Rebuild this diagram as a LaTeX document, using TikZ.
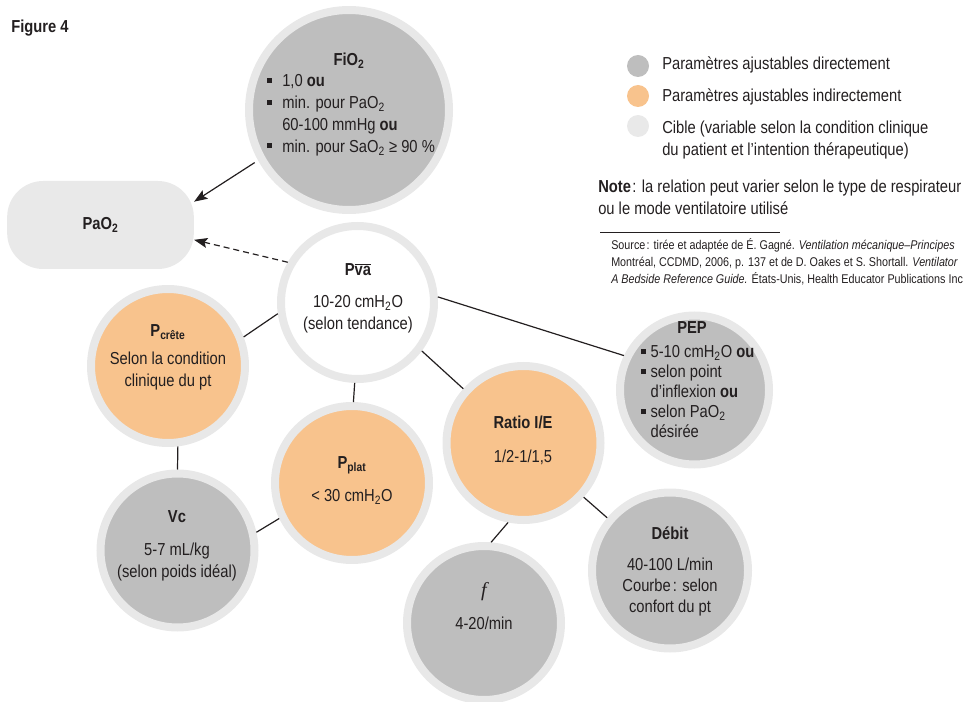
\documentclass[tikz,border=0pt]{standalone}
\usepackage{fontspec}
\setmainfont{Liberation Sans}[FakeStretch=0.85]
\newfontfamily\serifit{Liberation Serif}
\usetikzlibrary{arrows.meta}
\definecolor{grisdirect}{HTML}{BEBEBE}
\definecolor{peche}{HTML}{F8C38D}
\definecolor{anneau}{HTML}{E8E8E8}
\definecolor{cible}{HTML}{E9E9E9}
\definecolor{encre}{HTML}{231F20}
\newcommand{\puce}[1][11.25pt]{\makebox[#1][l]{\rule[0.22em]{3.6pt}{3.6pt}}}
\tikzset{
  bulle/.style={circle, draw=anneau, line width=6pt, inner sep=0pt, minimum size=#1},
  bulle/.default=115.5pt,
  lien/.style={draw=encre, line width=0.9pt},
  fleche/.style={-{Stealth[length=10pt,width=7.5pt,inset=2pt]}},
  legende/.style={circle, inner sep=0pt, minimum size=16.5pt},
}

\begin{document}
\begin{tikzpicture}[x=0.75pt, y=-0.75pt, font=\fontsize{13}{16.5}\selectfont, text=encre]
  \useasboundingbox (0,0) rectangle (964,702);
  \clip (0,0) rectangle (964,702);
  \node[anchor=west, inner sep=0pt] (fig) at (11,28) {\bfseries Figure 4};

  % bulles
  \node[bulle=150pt, fill=grisdirect] (fio) at (349,110) {};
  \node[rectangle, rounded corners=27pt, fill=cible, minimum width=140pt, minimum height=66pt] (pao) at (100.5,225) {\bfseries PaO\textsubscript{2}};
  \node[bulle=114.75pt, fill=white] (pva) at (357.5,302.5) {};
  \node[bulle, fill=peche] (pcrete) at (168,366) {};
  \node[bulle=111.75pt, fill=grisdirect] (pep) at (694.5,390) {};
  \node[bulle, fill=peche] (pplat) at (352,483) {};
  \node[bulle, fill=peche] (ratio) at (523.5,443) {};
  \node[bulle, fill=grisdirect] (vc) at (177.5,550.5) {};
  \node[bulle, fill=grisdirect] (f) at (484,623) {};
  \node[bulle=117pt, fill=grisdirect] (debit) at (670,570.5) {};

  % textes des bulles
  \node (fio-t) at (349,61) {\bfseries FiO\textsubscript{2}};
  \node[anchor=west, align=left, inner sep=0pt, font=\fontsize{13}{16.4}\selectfont] (fio-b) at (267,115)
    {\puce 1,0 \textbf{ou}\\ \puce min. pour PaO\textsubscript{2}\\ \hspace*{11.25pt}60-100 mmHg \textbf{ou}\\ \puce min. pour SaO\textsubscript{2} ≥ 90~\%};
  \node (pva-t) at (358,270) {\bfseries P$\overline{\hbox{va}}$};
  \node[align=center] (pva-b) at (358,314.5) {10-20 cmH\textsubscript{2}O\\(selon tendance)};
  \node (pcrete-t) at (168,332) {\bfseries P\textsubscript{crête}};
  \node[align=center] (pcrete-b) at (168,371.5) {Selon la condition\\clinique du pt};
  \node (pep-t) at (692,328) {\bfseries PEP};
  \node[anchor=west, align=left, inner sep=0pt, font=\fontsize{13}{15}\selectfont] (pep-b) at (641,392)
    {\puce[7pt]5-10 cmH\textsubscript{2}O \textbf{ou}\\ \puce[7pt]selon point\\ \hspace*{7pt}d’inflexion \textbf{ou}\\ \puce[7pt]selon PaO\textsubscript{2}\\ \hspace*{7pt}désirée};
  \node (pplat-t) at (352,465) {\bfseries P\textsubscript{plat}};
  \node (pplat-b) at (352,497) {\textless{} 30 cmH\textsubscript{2}O};
  \node (ratio-t) at (523,422) {\bfseries Ratio I/E};
  \node (ratio-b) at (523,457) {1/2-1/1,5};
  \node (vc-t) at (177,517) {\bfseries Vc};
  \node[align=center] (vc-b) at (177,562) {5-7 mL/kg\\(selon poids idéal)};
  \node (f-t) at (484,592) {\fontsize{15}{18}\selectfont\serifit\itshape f};
  \node (f-b) at (484,623) {4-20/min};
  \node (debit-t) at (670,533) {\bfseries Débit};
  \node[align=center, font=\fontsize{13}{15.4}\selectfont] (debit-b) at (670,587) {40-100 L/min\\Courbe\hspace{1.5pt}: selon\\confort du pt};

  % liens
  \draw[lien, fleche, shorten <=3pt] (fio.209) -- (pao.14);
  \draw[lien, fleche, dash pattern=on 4.5pt off 3pt] (pva.150) -- (pao.-9);
  \draw[lien] (pva.188) -- (pcrete.21);
  \draw[lien] (pva.268) -- (pplat.89);
  \draw[lien] (pva.-37) -- (ratio.138);
  \draw[lien] (pva.4) -- (pep.154);
  \draw[lien] (pcrete.-83) -- (vc.90);
  \draw[lien] (vc.13) -- (pplat.206);
  \draw[lien] (ratio.259) -- (f.85);
  \draw[lien] (ratio.-42) -- (debit.140);

  % legende
  \node[legende, fill=grisdirect] (leg-d) at (638,66) {};
  \node[legende, fill=peche] (leg-i) at (638,96) {};
  \node[legende, fill=cible] (leg-c) at (638,126) {};
  \node[anchor=west, inner sep=0pt] (leg-dt) at (662,65) {Paramètres ajustables directement};
  \node[anchor=west, inner sep=0pt] (leg-it) at (662,97) {Paramètres ajustables indirectement};
  \node[anchor=west, inner sep=0pt, align=left] (leg-ct) at (662,140)
    {Cible (variable selon la condition clinique\\du patient et l’intention thérapeutique)};
  \node[anchor=west, inner sep=0pt, align=left] (note) at (598,197)
    {\textbf{Note}\hspace{1pt}: la relation peut varier selon le type de respirateur\\ou le mode ventilatoire utilisé};
  \draw[encre, line width=0.7pt] (600,232) -- (780,232);
  \node[anchor=west, inner sep=0pt, align=left, font=\fontsize{9.5}{12.75}\selectfont] (source) at (611,262)
    {Source\hspace{1pt}: tirée et adaptée de É. Gagné. \textit{Ventilation mécanique–Principes}\\
     Montréal, CCDMD, 2006, p. 137 et de D. Oakes et S. Shortall. \textit{Ventilator}\\
     \textit{A Bedside Reference Guide.} États-Unis, Health Educator Publications Inc};
\end{tikzpicture}
\end{document}
